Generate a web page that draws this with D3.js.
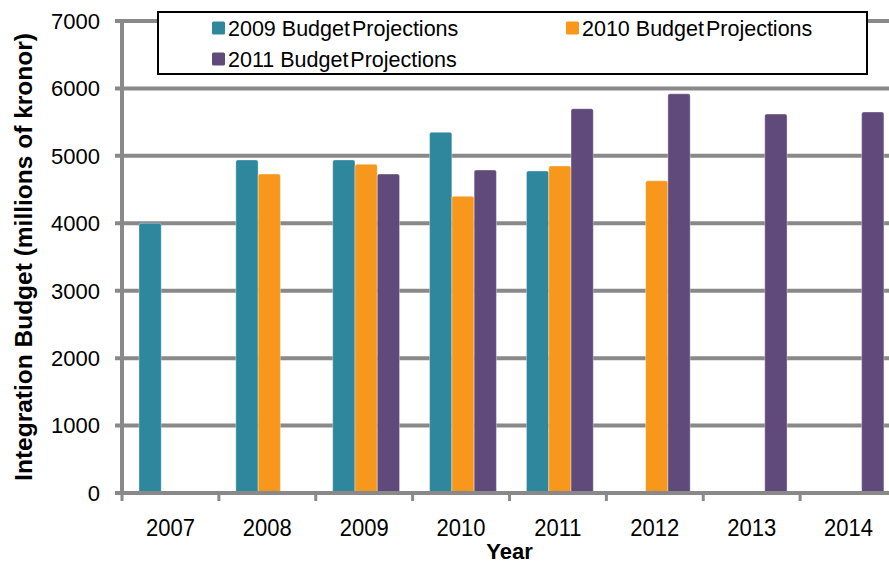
<!DOCTYPE html>
<html>
<head>
<meta charset="utf-8">
<script src="https://cdn.jsdelivr.net/npm/d3@7"></script>
<style>
  html, body { margin: 0; padding: 0; background: #fff; }
  svg { display: block; font-family: "Liberation Sans", Arial, sans-serif; }
</style>
</head>
<body>
<svg id="chart" width="889" height="564"></svg>
<script>
// Integration budget projections by year (millions of kronor)
const years = ["2007", "2008", "2009", "2010", "2011", "2012", "2013", "2014"];
const seriesNames = ["2009 Budget Projections", "2010 Budget Projections", "2011 Budget Projections"];
const proj2009 = [4000, 4940, 4940, 5350, 4775, null, null, null];
const proj2010 = [null, 4730, 4875, 4400, 4850, 4630, null, null];
const proj2011 = [null, null, 4730, 4790, 5700, 5920, 5620, 5650];
const yTicks = [0, 1000, 2000, 3000, 4000, 5000, 6000, 7000];
const colors = ["#2E879D", "#F7981D", "#604A7B"];

const seriesValues = [proj2009, proj2010, proj2011];

const svg = d3.select("#chart");
const gridColor = "#898989";

const x0 = d3.scaleBand().domain(years).range([122, 897]).padding(0);
const bw = x0.bandwidth();
const x1 = d3.scaleBand().domain(seriesNames).range([bw * 0.175, bw * 0.865]).padding(0);
const y = d3.scaleLinear().domain([0, 7000]).range([493, 21]);

// horizontal gridlines with short ticks to the left of the axis
svg.append("g").attr("class", "grid")
  .selectAll("line")
  .data(yTicks)
  .join("line")
  .attr("x1", 115).attr("x2", 889)
  .attr("y1", d => y(d)).attr("y2", d => y(d))
  .attr("stroke", gridColor)
  .attr("stroke-width", 4);

// y tick labels
svg.append("g").selectAll("text")
  .data(yTicks)
  .join("text")
  .attr("x", 100)
  .attr("y", d => y(d))
  .attr("dy", "0.36em")
  .attr("text-anchor", "end")
  .attr("font-size", 22)
  .attr("fill", "#000")
  .text(d => d);

// bars
const rows = years.map((yr, i) => ({
  year: yr,
  values: seriesNames.map((s, j) => ({ key: s, idx: j, value: seriesValues[j][i] }))
}));

const groups = svg.append("g").attr("class", "bars")
  .selectAll("g")
  .data(rows)
  .join("g")
  .attr("transform", d => `translate(${x0(d.year)},0)`);

groups.selectAll("path")
  .data(d => d.values.filter(v => v.value != null))
  .join("path")
  .attr("d", v => {
    const xL = x1(v.key), w = x1.bandwidth(), yT = y(v.value), yB = y(0), r = 2;
    return `M${xL},${yB} L${xL},${yT + r} Q${xL},${yT} ${xL + r},${yT} ` +
           `L${xL + w - r},${yT} Q${xL + w},${yT} ${xL + w},${yT + r} L${xL + w},${yB} Z`;
  })
  .attr("fill", v => colors[v.idx])
  .attr("stroke", "#ffffff")
  .attr("stroke-opacity", 0.35)
  .attr("stroke-width", 1);

// axis lines drawn above the bars
svg.append("line")
  .attr("x1", 122).attr("x2", 122)
  .attr("y1", y(7000) - 2).attr("y2", y(0) + 2)
  .attr("stroke", gridColor).attr("stroke-width", 4);

svg.append("line")
  .attr("x1", 115).attr("x2", 889)
  .attr("y1", y(0)).attr("y2", y(0))
  .attr("stroke", gridColor).attr("stroke-width", 4);

// x tick marks at category boundaries
svg.append("g").selectAll("line")
  .data(years)
  .join("line")
  .attr("x1", d => x0(d)).attr("x2", d => x0(d))
  .attr("y1", y(0)).attr("y2", y(0) + 8)
  .attr("stroke", gridColor).attr("stroke-width", 3);

// x tick labels, slightly tall
svg.append("g").selectAll("text")
  .data(years)
  .join("text")
  .attr("transform", d => `translate(${x0(d) + bw / 2},536) scale(1,1.08)`)
  .attr("text-anchor", "middle")
  .attr("font-size", 22)
  .attr("fill", "#000")
  .text(d => d);

// axis titles
svg.append("text")
  .attr("x", (122 + 897) / 2)
  .attr("y", 559)
  .attr("text-anchor", "middle")
  .attr("font-size", 22)
  .attr("font-weight", "bold")
  .text("Year");

svg.append("text")
  .attr("transform", `translate(32,${(y(0) + y(7000)) / 2}) rotate(-90)`)
  .attr("text-anchor", "middle")
  .attr("font-size", 24.5)
  .attr("font-weight", "bold")
  .text("Integration Budget (millions of kronor)");

// legend
const legend = svg.append("g").attr("class", "legend");
legend.append("rect")
  .attr("x", 158).attr("y", 12)
  .attr("width", 709).attr("height", 62)
  .attr("fill", "#fff")
  .attr("stroke", "#000")
  .attr("stroke-width", 2);

const legendPos = [
  { x: 212, y: 36 },
  { x: 566, y: 36 },
  { x: 212, y: 67 }
];
const items = legend.selectAll("g.item")
  .data(seriesNames)
  .join("g")
  .attr("class", "item")
  .attr("transform", (d, i) => `translate(${legendPos[i].x},${legendPos[i].y})`);

items.append("rect")
  .attr("x", 0).attr("y", -14.5)
  .attr("width", 13).attr("height", 13)
  .attr("rx", 1.5)
  .attr("fill", (d, i) => colors[i]);

const labels = items.append("text")
  .attr("x", 16)
  .attr("y", 0)
  .attr("font-size", 21.5)
  .attr("fill", "#000");

labels.append("tspan")
  .text(d => d.split(" ").slice(0, 2).join(" "));
labels.append("tspan")
  .attr("dx", 2)
  .text(d => d.split(" ").slice(2).join(" "));
</script>
</body>
</html>
